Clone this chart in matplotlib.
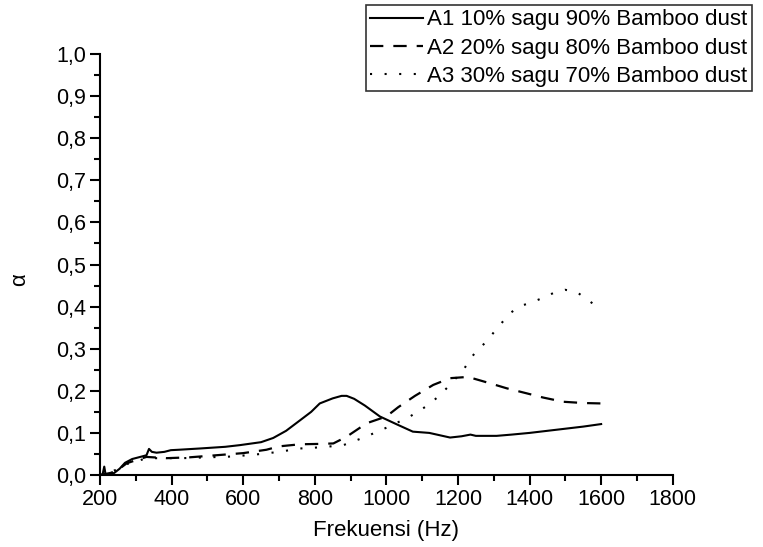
import numpy as np
import matplotlib
matplotlib.use('Agg')
import matplotlib.pyplot as plt
from matplotlib.ticker import MultipleLocator, FuncFormatter

plt.rcParams['font.family'] = ['Liberation Sans', 'DejaVu Sans']

# A1 10% sagu 90% bamboo dust
freq_a1 = [200, 207, 212, 216, 222, 240, 255, 270, 290, 317, 330, 337, 345, 358, 380, 398, 420,
           479, 550, 591, 650, 684, 720, 759, 790, 814, 850, 875, 889, 910, 940, 982, 1030,
           1074, 1120, 1178, 1210, 1235, 1250, 1308, 1350, 1400, 1450, 1500, 1550, 1600]
alpha_a1 = [0.0, 0.0, 0.02, 0.0, 0.0, 0.005, 0.015, 0.029, 0.038, 0.044, 0.047, 0.062, 0.055,
            0.053, 0.055, 0.059, 0.06, 0.063, 0.067, 0.071, 0.078, 0.088, 0.105, 0.13, 0.15,
            0.17, 0.182, 0.188, 0.188, 0.181, 0.165, 0.139, 0.12, 0.103, 0.1, 0.089, 0.092,
            0.096, 0.093, 0.093, 0.096, 0.1, 0.105, 0.11, 0.115, 0.121]

# A2 20% sagu 80% bamboo dust
freq_a2 = [200, 230, 250, 275, 300, 330, 386, 450, 526, 600, 665, 700, 759, 820, 852, 889,
           945, 1000, 1033, 1080, 1131, 1178, 1228, 1289, 1336, 1392, 1438, 1494, 1550, 1600]
alpha_a2 = [0.0, 0.005, 0.012, 0.028, 0.035, 0.043, 0.04, 0.042, 0.047, 0.052, 0.06, 0.068,
            0.073, 0.074, 0.075, 0.091, 0.123, 0.139, 0.161, 0.188, 0.214, 0.23, 0.233, 0.218,
            0.206, 0.194, 0.184, 0.174, 0.171, 0.17]

# A3 30% sagu 70% bamboo dust
freq_a3 = [200, 230, 255, 275, 300, 330, 386, 430, 500, 572, 650, 700, 759, 820, 880, 940,
           1010, 1066, 1113, 1145, 1173, 1215, 1234, 1252, 1280, 1303, 1345, 1373, 1406, 1438,
           1466, 1499, 1531, 1563, 1600]
alpha_a3 = [0.0, 0.008, 0.015, 0.026, 0.032, 0.04, 0.04, 0.04, 0.042, 0.044, 0.05, 0.055,
            0.063, 0.066, 0.071, 0.09, 0.116, 0.139, 0.164, 0.186, 0.21, 0.249, 0.275, 0.295,
            0.317, 0.342, 0.384, 0.401, 0.41, 0.421, 0.432, 0.44, 0.435, 0.416, 0.392]

labels = ['A1 10% sagu 90% Bamboo dust',
          'A2 20% sagu 80% Bamboo dust',
          'A3 30% sagu 70% Bamboo dust']

fig = plt.figure(figsize=(7.63, 5.47), dpi=100)
ax = fig.add_axes([0.131, 0.1316, 0.7507, 0.7697])

l1, = ax.plot(freq_a1, alpha_a1, color='black', linewidth=1.5, linestyle='-')
l2, = ax.plot(freq_a2, alpha_a2, color='black', linewidth=1.6, linestyle=(0, (6, 4.5)))
l3, = ax.plot(freq_a3, alpha_a3, color='black', linewidth=1.5, linestyle=(0, (1, 6)))

ax.set_xlim(200, 1800)
ax.set_ylim(0, 1.0)
ax.xaxis.set_major_locator(MultipleLocator(200))
ax.xaxis.set_minor_locator(MultipleLocator(100))
ax.yaxis.set_major_locator(MultipleLocator(0.1))
ax.yaxis.set_minor_locator(MultipleLocator(0.05))
ax.yaxis.set_major_formatter(FuncFormatter(lambda v, p: f'{v:.1f}'.replace('.', ',')))

for s in ['top', 'right']:
    ax.spines[s].set_visible(False)
for s in ['left', 'bottom']:
    ax.spines[s].set_linewidth(1.5)

ax.tick_params(which='major', direction='out', length=7, width=1.5, labelsize=15.5, pad=3)
ax.tick_params(which='minor', direction='out', length=4, width=1.5)

ax.set_xlabel('Frekuensi (Hz)', fontsize=16, labelpad=7)
ax.set_ylabel('α', fontsize=16)
ax.yaxis.set_label_coords(-0.122, 0.465)

leg = fig.legend([l1, l2, l3], labels, loc='upper left', bbox_to_anchor=(0.4797, 0.991),
                 fontsize=16, frameon=True, fancybox=False, edgecolor='black',
                 handlelength=2.35, handletextpad=0.2, borderpad=0.2, labelspacing=0.33,
                 borderaxespad=0)
leg.get_frame().set_linewidth(1.2)

fig.savefig('out.png', dpi=100)
